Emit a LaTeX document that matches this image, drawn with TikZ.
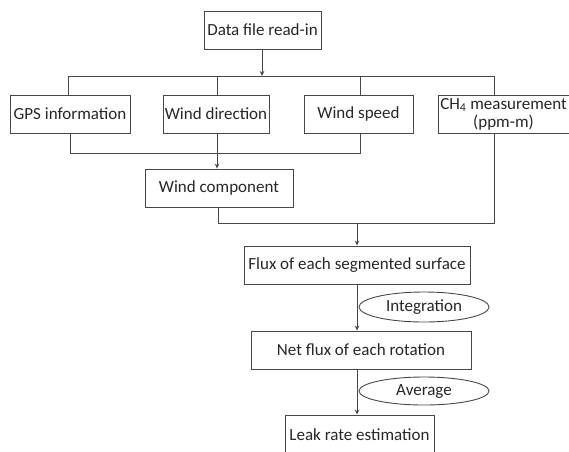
\documentclass[tikz,border=0pt]{standalone}
\usepackage{fontspec}
\setmainfont{Carlito}
\usetikzlibrary{arrows.meta,shapes.geometric}
\begin{document}
\begin{tikzpicture}[x=1pt,y=-1pt,
  every node/.style={font=\fontsize{17}{19}\selectfont, text=black!85},
  box/.style={draw=black!72, line width=0.9pt, rectangle, inner sep=0pt, minimum height=38pt},
  oval/.style={draw=black!72, line width=0.9pt, ellipse, inner sep=0pt, minimum width=130pt},
  conn/.style={draw=black!72, line width=0.9pt},
  arr/.style={conn, -{Stealth[length=5pt,width=4.5pt]}}]
\useasboundingbox (0,0) rectangle (569,451);
\clip (0,0) rectangle (569,451);
% boxes
\node[box, minimum width=117pt] (read) at (262.5,30) {Data file read-in};
\node[box, minimum width=120pt] (gps) at (70,114) {GPS information};
\node[box, minimum width=106pt] (wdir) at (216,114) {Wind direction};
\node[box, minimum width=109pt] (wspd) at (358.5,114) {Wind speed};
\node[box, minimum width=131pt, align=center, font=\fontsize{17}{18}\selectfont] (ch4) at (503.5,114) {CH\textsubscript{4} measurement\\(ppm-m)};
\node[box, minimum width=148pt] (wcomp) at (219,188) {Wind component};
\node[box, minimum width=226pt] (flux) at (357,265) {Flux of each segmented surface};
\node[oval, minimum height=30pt] (integ) at (424,307) {Integration};
\node[box, minimum width=220pt] (net) at (361,350) {Net flux of each rotation};
\node[oval, minimum height=28pt] (avg) at (424,391) {Average};
\node[box, minimum width=149pt, minimum height=40pt] (leak) at (359.5,435) {Leak rate estimation};
% upper bus
\coordinate (b1) at (68,76);
\coordinate (b2) at (217,76);
\coordinate (b3) at (360,76);
\coordinate (b4) at (494,76);
\coordinate (b0) at (262,76);
\draw[arr] (read.south -| b0) -- (b0);
\draw[conn] (b1) -- (b4);
\draw[conn] (b1) -- (b1 |- gps.north);
\draw[conn] (b2) -- (b2 |- wdir.north);
\draw[conn] (b3) -- (b3 |- wspd.north);
\draw[conn] (b4) -- (b4 |- ch4.north);
% lower bus
\coordinate (l1) at (70,153);
\coordinate (l2) at (217,153);
\coordinate (l3) at (360,153);
\draw[conn] (l1 |- gps.south) -- (l1) -- (l3) -- (l3 |- wspd.south);
\draw[arr] (l2 |- wdir.south) -- (l2 |- wcomp.north);
% merge
\coordinate (m1) at (218,223);
\coordinate (m2) at (357,223);
\coordinate (m3) at (494,223);
\draw[conn] (m1 |- wcomp.south) -- (m1) -- (m3) -- (m3 |- ch4.south);
\draw[arr] (m2) -- (m2 |- flux.north);
\draw[arr] (flux.south -| m2) -- (net.north -| m2);
\draw[arr] (net.south -| m2) -- (leak.north -| m2);
\end{tikzpicture}
\end{document}
